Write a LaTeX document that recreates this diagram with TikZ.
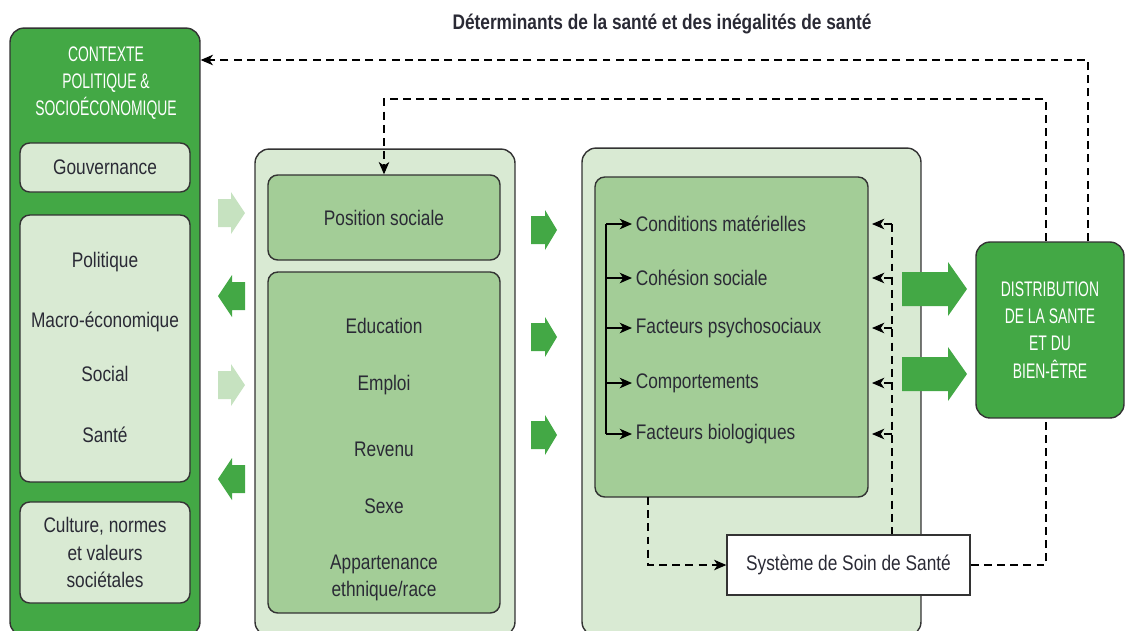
\documentclass[tikz,border=0pt]{standalone}
\usepackage{fontspec}
\setmainfont{Liberation Sans}[FakeStretch=0.82]
\newfontfamily\capsfont{Liberation Sans}[FakeStretch=0.66]
\usetikzlibrary{arrows.meta}

\definecolor{vertfonce}{HTML}{43A845}
\definecolor{vertclair}{HTML}{D9EAD3}
\definecolor{vertmoyen}{HTML}{A3CD97}
\definecolor{vertpale}{HTML}{C6E2C0}
\definecolor{bord}{HTML}{333333}
\definecolor{encre}{HTML}{2A2A35}

\tikzset{
  txt/.style={font=\fontsize{12}{15.5}\selectfont, text=encre, align=center},
  caps/.style={font=\capsfont\fontsize{12}{15.5}\selectfont, text=white, align=center},
  grandbox/.style={draw=bord, line width=0.8pt, rounded corners=8pt, inner sep=0pt},
  petitbox/.style={draw=bord, line width=0.8pt, rounded corners=5.5pt, inner sep=0pt, txt},
  tirets/.style={draw=black, line width=0.6pt, dash pattern=on 4.5pt off 3pt},
  pointe/.style={-{Stealth[length=7pt,width=6pt,inset=2pt]}},
  item/.style={txt, anchor=west, inner sep=2pt}
}

\begin{document}
\begin{tikzpicture}[x=0.02cm, y=-0.02cm]
  \useasboundingbox (0,0) rectangle (1125,630);
  \clip (0,0) rectangle (1125,630);

  % titre
  \node[txt, font=\bfseries\fontsize{12}{15.5}\selectfont] (titre) at (662,24)
    {Déterminants de la santé et des inégalités de santé};

  % contexte
  \node[grandbox, fill=vertfonce, minimum width=3.8cm, minimum height=12.16cm] (contexte) at (105,332) {};
  \node[caps] (titrectx) at (106,83) {CONTEXTE\\POLITIQUE \&\\SOCIOÉCONOMIQUE};
  \node[petitbox, fill=vertclair, minimum width=3.4cm, minimum height=0.98cm] (gouv) at (105,167.5) {Gouvernance};
  \node[petitbox, fill=vertclair, minimum width=3.4cm, minimum height=5.34cm] (secteurs) at (105,348.5) {};
  \node[txt] (politique) at (105,262) {Politique};
  \node[txt] (macro) at (105,322) {Macro-économique};
  \node[txt] (social) at (105,374) {Social};
  \node[txt] (santectx) at (105,435) {Santé};
  \node[petitbox, fill=vertclair, minimum width=3.4cm, minimum height=2.02cm] (culture) at (105,552.5)
    {Culture, normes\\et valeurs\\sociétales};

  % position socio-economique
  \node[grandbox, fill=vertclair, minimum width=5.2cm, minimum height=9.74cm] (stratif) at (385,392.5) {};
  \node[petitbox, fill=vertmoyen, minimum width=4.64cm, minimum height=1.7cm] (possoc) at (384,217.5) {Position sociale};
  \node[petitbox, fill=vertmoyen, minimum width=4.64cm, minimum height=6.82cm] (criteres) at (384,442.5) {};
  \node[txt] (educ) at (384,326) {Education};
  \node[txt] (emploi) at (384,385) {Emploi};
  \node[txt] (revenu) at (384,449) {Revenu};
  \node[txt] (sexe) at (384,506) {Sexe};
  \node[txt] (ethnie) at (384,578) {Appartenance\\ethnique/race};

  % determinants intermediaires
  \node[grandbox, fill=vertclair, minimum width=6.78cm, minimum height=9.76cm] (interm) at (751.5,392) {};
  \node[petitbox, fill=vertmoyen, minimum width=5.46cm, minimum height=6.4cm] (facteurs) at (731.5,337) {};
  \node[item] (cond) at (632,224) {Conditions matérielles};
  \node[item] (cohe) at (632,278) {Cohésion sociale};
  \node[item] (psy) at (632,328) {Facteurs psychosociaux};
  \node[item] (comp) at (632,383) {Comportements};
  \node[item] (bio) at (632,434) {Facteurs biologiques};
  \node[txt, draw=bord, fill=white, line width=0.8pt, minimum width=4.86cm, minimum height=1.2cm] (soin) at (848.5,565)
    {Système de Soin de Santé};

  % distribution
  \node[grandbox, fill=vertfonce, minimum width=2.96cm, minimum height=3.52cm, caps] (distrib) at (1050,330)
    {DISTRIBUTION\\DE LA SANTE\\ET DU\\BIEN-ÊTRE};

  % fleches pleines
  \foreach \y in {213,385}
    \fill[vertpale] (218,\y-14) -- (231,\y-14) -- (231,\y-21) -- (245,\y) -- (231,\y+21) -- (231,\y+14) -- (218,\y+14) -- cycle;
  \foreach \y in {296,479}
    \fill[vertfonce] (245,\y-14) -- (232,\y-14) -- (232,\y-21) -- (218,\y) -- (232,\y+21) -- (232,\y+14) -- (245,\y+14) -- cycle;
  \foreach \y in {230,337,435}
    \fill[vertfonce] (531,\y-14) -- (545,\y-14) -- (545,\y-20) -- (557,\y) -- (545,\y+20) -- (545,\y+14) -- (531,\y+14) -- cycle;
  \foreach \y in {289,374}
    \fill[vertfonce] (902,\y-17) -- (948,\y-17) -- (948,\y-27) -- (967,\y) -- (948,\y+27) -- (948,\y+17) -- (902,\y+17) -- cycle;

  % accolade des facteurs
  \coordinate (acctop) at (606,224);
  \draw[line width=0.8pt] (acctop) -- (acctop |- bio.west);
  \foreach \n in {cond,cohe,psy,comp,bio}
    \draw[line width=0.8pt, pointe] (\n.west -| acctop) -- (\n.west);

  % retours en tirets
  \coordinate (fbtop) at (892,224);
  \coordinate (fbtip) at (872,0);
  \draw[tirets] (fbtop) -- (fbtop |- soin.north);
  \foreach \n in {cond,cohe,psy,comp,bio}
    \draw[tirets, pointe] (\n.west -| fbtop) -- (\n.west -| fbtip);

  \coordinate (versoin) at (648,497);
  \draw[tirets, pointe] (versoin) |- (soin.west);

  \coordinate (boucle) at (1046,99);
  \draw[tirets, pointe] (distrib.north -| boucle) -- (boucle) -| (possoc.north);
  \draw[tirets] (soin.east) -| (distrib.south -| boucle);

  \coordinate (retour) at (1088,60);
  \draw[tirets, pointe] (distrib.north -| retour) -- (retour) -- (retour -| contexte.east);
\end{tikzpicture}
\end{document}
